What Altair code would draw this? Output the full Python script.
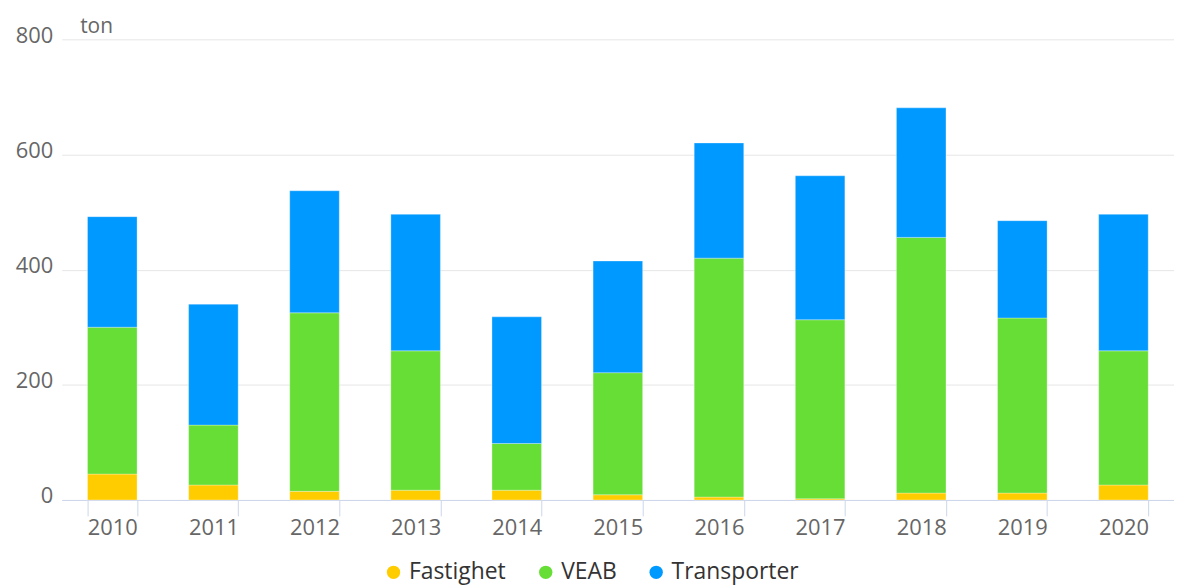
import altair as alt
import pandas as pd

years = [str(y) for y in range(2010, 2021)]
fastighet = [45, 26, 15, 17, 17, 9, 5, 2, 12, 12, 26]
veab = [255, 104, 310, 242, 81, 212, 415, 311, 444, 304, 233]
transporter = [192, 210, 212, 237, 220, 194, 200, 250, 225, 169, 237]
series = ["Fastighet", "VEAB", "Transporter"]
colors = ["#ffcc00", "#66de35", "#0099ff"]

rows = []
for i, y in enumerate(years):
    for k, (name, vals) in enumerate(zip(series, [fastighet, veab, transporter])):
        rows.append({"year": y, "series": name, "value": vals[i], "order": k})
df = pd.DataFrame(rows)

FONT = "Open Sans"

chart = alt.Chart(df).mark_bar(stroke="white", strokeWidth=0.6, strokeOpacity=0.5).encode(
    x=alt.X(
        "year:N",
        title=None,
        scale=alt.Scale(paddingInner=0.51, paddingOuter=0.255),
        axis=alt.Axis(
            labelAngle=0, labelFontSize=22, labelColor="#666666", labelFont=FONT,
            domainColor="#ccd6eb", tickColor="#ccd6eb", tickSize=16, tickBand="extent",
            labelPadding=2,
        ),
    ),
    y=alt.Y(
        "value:Q",
        stack="zero",
        scale=alt.Scale(domain=[0, 800]),
        axis=alt.Axis(
            values=[0, 200, 400, 600, 800], title="ton", titleAngle=0, titleAlign="left",
            titleBaseline="alphabetic", titleX=18, titleY=-7, titleFontWeight="normal",
            titleFontSize=21, titleColor="#666666", titleFont=FONT,
            labelFontSize=22, labelColor="#666666", labelFont=FONT, labelPadding=9,
            labelOffset=-4, gridColor="#e6e6e6", domain=False, ticks=False,
        ),
    ),
    color=alt.Color(
        "series:N",
        scale=alt.Scale(domain=series, range=colors),
        legend=alt.Legend(
            title=None, orient="none", legendX=322, legendY=524, direction="horizontal",
            symbolType="circle", symbolSize=180, symbolStrokeWidth=0, symbolOpacity=1,
            labelFontSize=23, labelColor="#333333", labelFont=FONT, columnPadding=28,
            labelOffset=4,
        ),
    ),
    order=alt.Order("order:Q"),
).properties(
    width=1118, height=463,
    autosize=alt.AutoSizeParams(type="none"),
    padding={"left": 54, "top": 30, "right": 0, "bottom": 86},
).configure_view(stroke=None)

chart.save("out.html", embed_options={"renderer": "svg", "actions": False})
